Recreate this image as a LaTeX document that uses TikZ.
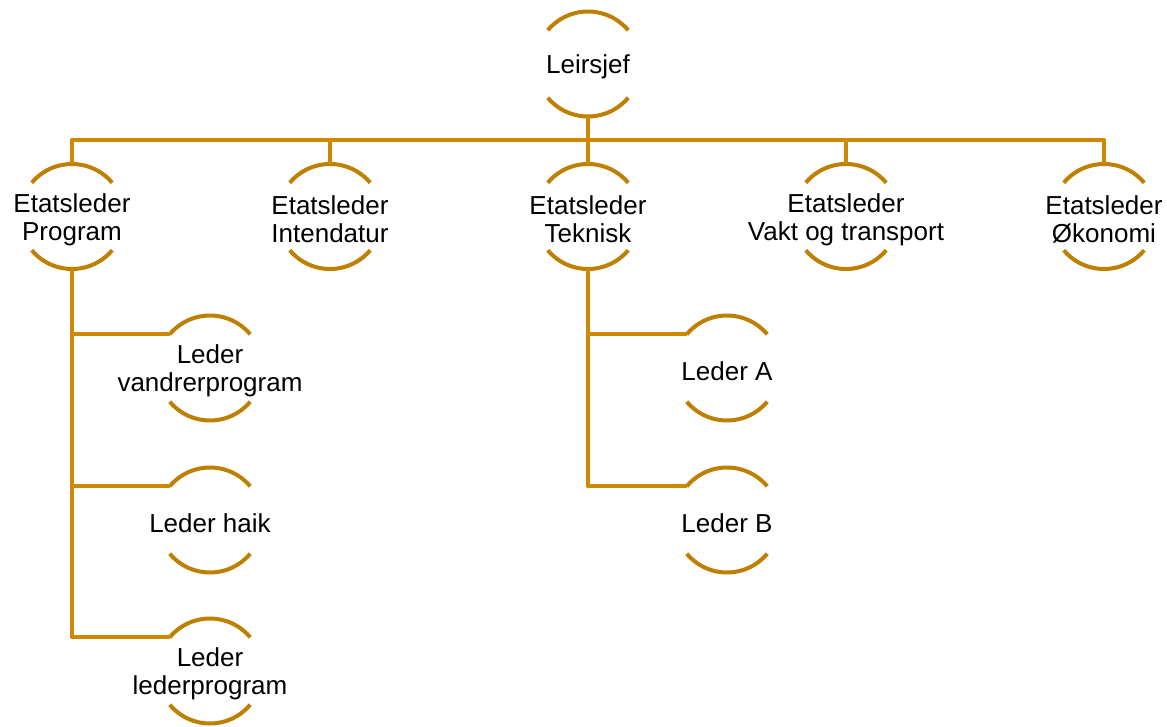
\documentclass[tikz,border=0pt]{standalone}
\usepackage{fontspec}
\setmainfont{Liberation Sans}
\usepackage{tikz}
\definecolor{ringc}{RGB}{191,127,0}
\definecolor{linkc}{RGB}{208,136,0}

\begin{document}
\begin{tikzpicture}[line cap=butt,line join=round,x=0.5pt,y=-0.5pt,
  unit/.style={circle,minimum size=52.5pt,inner sep=0pt,outer sep=0pt},
  lbl/.style={align=center,font=\fontsize{13}{13.9}\selectfont,inner sep=0pt,yshift=-1.5pt},
  ring/.style={draw=ringc,line width=2pt},
  link/.style={draw=linkc,line width=2pt}]
\useasboundingbox (0,0) rectangle (1167,727);

\node[unit,label={[lbl]center:Leirsjef}] (chief) at (588,64) {};

\node[unit,label={[lbl]center:Etatsleder\\Program}] (prog) at (72,216.5) {};
\node[unit,label={[lbl]center:Etatsleder\\Intendatur}] (int) at (330,216.5) {};
\node[unit,label={[lbl]center:Etatsleder\\Teknisk}] (tek) at (588,216.5) {};
\node[unit,label={[lbl]center:Etatsleder\\Vakt og transport}] (vakt) at (846,216.5) {};
\node[unit,label={[lbl]center:Etatsleder\\Økonomi}] (oko) at (1104,216.5) {};

\node[unit,label={[lbl]center:Leder\\vandrerprogram}] (vand) at (210,368) {};
\node[unit,label={[lbl]center:Leder haik}] (haik) at (210,520) {};
\node[unit,label={[lbl]center:Leder\\lederprogram}] (ledp) at (210,671) {};

\node[unit,label={[lbl]center:Leder A}] (leda) at (727,368) {};
\node[unit,label={[lbl]center:Leder B}] (ledb) at (727,520) {};

% half rings
\foreach \n in {chief,prog,int,tek,vakt,oko,vand,haik,ledp,leda,ledb}{
  \draw[ring] (\n.140) arc[start angle=140,end angle=40,radius=26.25pt];
  \draw[ring] (\n.220) arc[start angle=220,end angle=320,radius=26.25pt];
}

% lines
\coordinate (bus) at (0,140);
\draw[link] (chief.south) -- (chief.south |- bus);
\draw[link] (prog.north) -- (prog.north |- bus) -- (oko.north |- bus) -- (oko.north);
\foreach \n in {int,tek,vakt}
  \draw[link] (\n.north) -- (\n.north |- bus);

\draw[link] (prog.south) |- (ledp.140);
\draw[link] (prog.south |- vand.140) -- (vand.140);
\draw[link] (prog.south |- haik.140) -- (haik.140);

\draw[link] (tek.south) |- (ledb.140);
\draw[link] (tek.south |- leda.140) -- (leda.140);

\end{tikzpicture}
\end{document}
